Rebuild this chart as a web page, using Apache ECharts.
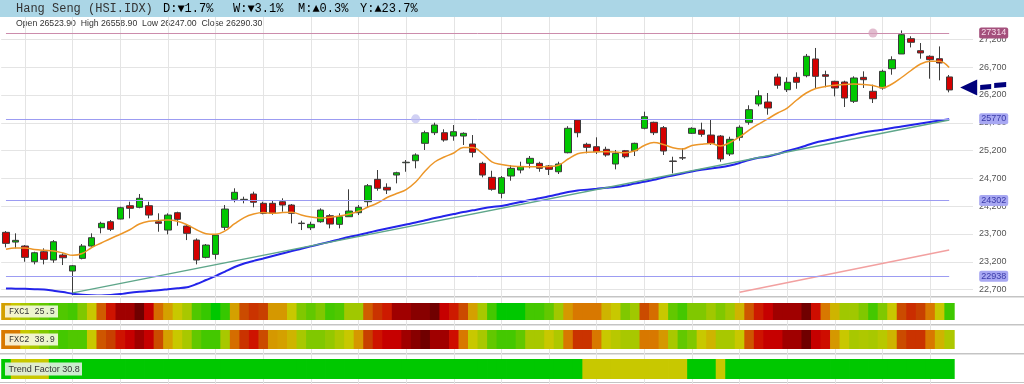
<!DOCTYPE html>
<html>
<head>
<meta charset="utf-8">
<script src="https://cdn.jsdelivr.net/npm/echarts@6/dist/echarts.min.js"></script>
<style>
html, body { margin: 0; padding: 0; background: #fff; }
#chart { width: 1024px; height: 384px; }
</style>
</head>
<body>
<div id="chart"></div>
<script>
// daily candles, oldest first
var opens = [23729,23554,23483,23200,23380,23231,23321,23033,23261,23483,
  23812,23920,23968,24208,24179,24208,23920,23770,24082,23842,
  23590,23279,23333,23819,24323,24315,24418,24251,24251,24280,
  24220,23895,23812,23920,24028,23873,24010,24082,24280,24682,
  24539,24760,24981,25017,25330,25521,25521,25461,25461,25318,
  24970,24718,24431,24742,24850,24970,24970,24922,24819,25161,
  25750,25312,25269,25222,24958,25197,25197,25600,25708,25611,
  25012,25071,25510,25570,25479,25461,25138,25438,25708,26037,
  26073,26523,26294,26517,26546,26847,26564,26445,26433,26086,
  26517,26266,26325,26672,26937,27212,26996,26895,26852,26523.9];
var closes = [23531,23585,23279,23362,23243,23560,23272,23128,23483,23632,
  23891,23783,24172,24161,24341,24040,23891,24040,23963,23711,
  23231,23500,23680,24148,24449,24323,24270,24071,24071,24220,
  24071,23887,23873,24130,23878,24010,24112,24179,24567,24521,
  24490,24801,24990,25120,25521,25659,25390,25539,25510,25168,
  24760,24503,24711,24880,24909,25060,24880,24862,24958,25600,
  25521,25258,25179,25120,25150,25089,25330,25809,25521,25192,
  25005,25066,25600,25492,25330,25048,25402,25618,25935,26186,
  25965,26374,26428,26428,26895,26535,26535,26325,26145,26505,
  26474,26132,26625,26834,27284,27147,26955,26834,26775,26290.3];
var lows = [23459,23441,23200,23153,23153,23182,23141,22600,23243,23470,
  23711,23752,23963,23981,24161,23981,23740,23693,23848,23590,
  23153,23261,23243,23770,24269,24251,24179,24053,24046,24100,
  23891,23770,23770,23902,23801,23801,24010,24040,24179,24478,
  24418,24610,24819,24880,25210,25479,25359,25377,25300,25078,
  24718,24478,24341,24657,24790,24880,24819,24760,24778,25150,
  25438,25150,25138,25089,24862,25060,25102,25582,25479,25120,
  24790,25030,25497,25449,25300,24999,25102,25377,25665,25996,
  25845,26312,26253,26312,26517,26325,26338,26175,25983,26055,
  26325,26055,26294,26564,26937,27055,26852,26492,26463,26247];
var highs = [23752,23711,23500,23380,23441,23590,23351,23141,23519,23711,
  23920,23950,24190,24280,24418,24280,24071,24071,24100,23860,
  23620,23519,23693,24220,24521,24370,24460,24280,24292,24341,
  24238,23938,23920,24161,24058,24071,24503,24220,24598,24850,
  24610,24819,25030,25150,25557,25701,25582,25659,25528,25479,
  24999,24837,24742,24940,24999,25102,24999,24940,24999,25638,
  25762,25341,25438,25269,25210,25210,25341,25899,25719,25641,
  25089,25240,25618,25701,25767,25479,25449,25654,26014,26283,
  26235,26582,26517,26607,26937,27045,26636,26456,26456,26535,
  26625,26384,26654,26895,27360,27255,27134,26913,27073,26558.9];

// moving averages
var maShort = [23425,23447,23447,23421,23405,23393,23357,23315,23348,23456,
  23537,23619,23695,23776,23878,23927,23940,23950,23929,23866,
  23776,23704,23693,23756,23884,23995,24058,24085,24071,24087,
  24091,24040,24004,23985,24001,24022,24058,24107,24184,24256,
  24355,24427,24499,24634,24832,24994,25084,25156,25255,25255,
  25147,24997,24949,24922,24913,24909,24909,24913,24936,25048,
  25143,25170,25177,25179,25174,25159,25197,25291,25345,25309,
  25251,25228,25292,25314,25327,25282,25345,25444,25569,25677,
  25776,25875,25965,26109,26235,26316,26352,26375,26386,26397,
  26390,26370,26329,26397,26514,26640,26757,26805,26807,26694];
var maLong = [22720,22716,22713,22707,22702,22678,22655,22623,22605,22596,
  22592,22601,22619,22642,22659,22673,22687,22705,22723,22740,
  22799,22871,22943,23024,23105,23168,23216,23258,23303,23348,
  23393,23434,23477,23519,23560,23603,23644,23680,23722,23761,
  23797,23833,23869,23905,23945,23986,24022,24058,24094,24125,
  24157,24184,24202,24238,24274,24310,24341,24377,24413,24454,
  24483,24497,24512,24530,24544,24571,24607,24638,24675,24715,
  24751,24787,24823,24853,24877,24898,24931,24976,25030,25069,
  25093,25138,25192,25237,25291,25345,25381,25416,25452,25488,
  25524,25551,25573,25605,25632,25659,25686,25713,25739,25762];

// trend lines: [candle index, price]
var trendUp = [[7, 22640], [99, 25750]];
var trendLow = [[77, 22650], [99, 23411]];

// horizontal levels and where they were marked
var levels = [27314, 25770, 24302, 22938];
var levelMarks = [[91, 27314], [43, 25770]];

var tickValues = [22700, 23200, 23700, 24200, 24700, 25200, 25700, 26200, 26700, 27200];

// indicator strips
var fxc1 = [50,44,38,32,29,26,27.2,26,32,44,
  59,66.2,74,74,80,69.2,57.2,50,44,38,
  27.2,24.8,20,24.8,50,60.8,63.2,62,51.2,51.2,
  44,32,29,32,26,27.2,36.8,36.8,59,63.2,
  65.6,74,74,77,77,80,69.2,65.6,60.8,50,
  38,26,20,20,20,26,26,29,36.8,51.2,
  56,56,56,47,44,32,36.8,60.8,57.2,44,
  29,26,32,32,36.8,32,36.8,47,59.6,65.6,
  69.2,74,74,74,80,66.8,56,47,36.8,36.8,
  32,26,32,44,60.8,63.8,62,56,44,25.5];
var fxc2 = [56,56,44,38,32,29,26,27.2,27.2,44,
  59.6,62,66.2,69.2,74,69.2,60.8,50,44,38,
  29,26,26,38,57.2,63.2,66.2,60.8,51.2,50,
  47,38,32,32,35,39.2,44,51.2,62,66.2,
  69.2,69.2,74,77,80,74,74,66.8,56,44,
  38,29,26,26,29,38,38,44,39.2,56,
  63.2,63.2,56,44,41,38,38,56,56,51.2,
  38,29,32,44,47,38,38,44,59.6,66.2,
  69.2,69.2,74,74,80,69.2,66.8,51.2,44,38,
  39.2,38,41,47,60.8,63.2,63.2,56,47,38.9];
// 1 = trending (green), 0 = neutral (yellow)
var trendFactor = [1,0,0,0,0,1,1,1,1,1,
  1,1,1,1,1,1,1,1,1,1,
  1,1,1,1,1,1,1,1,1,1,
  1,1,1,1,1,1,1,1,1,1,
  1,1,1,1,1,1,1,1,1,1,
  1,1,1,1,1,1,1,1,1,1,
  1,0,0,0,0,0,0,0,0,0,
  0,0,1,1,1,0,1,1,1,1,
  1,1,1,1,1,1,1,1,1,1,
  1,1,1,1,1,1,1,1,1,1];

var fxcColors = ['#00c800','#44c800','#80c800','#a8c800','#c8c800','#d4a000',
  '#d87800','#c84000','#d00000','#a00000','#700000'];

var days = [];
for (var i = 0; i < opens.length; i++) { days.push('d' + (i + 1)); }

var candles = opens.map(function (o, i) { return [o, closes[i], lows[i], highs[i]]; });
function strip(arr) { return arr.map(function (v, i) { return [i, 0, v]; }); }

// one cell per candle, slightly widened so neighbours don't leave seams
function renderCell(params, api) {
  var c = api.coord([api.value(0), 0]);
  var w = api.size([1, 0])[0];
  var cs = params.coordSys;
  return {
    type: 'rect',
    shape: { x: c[0] - w / 2, y: cs.y, width: w + 0.8, height: cs.height },
    style: { fill: api.visual('color') }
  };
}

var levelLines = levels.map(function (v, k) {
  var top = k === 0;
  return [{
    coord: [0, v],
    lineStyle: { color: top ? '#cc8cac' : '#9c9cf2', width: 1, type: 'solid' },
    label: {
      show: true, position: 'end', distance: 30, formatter: String(v),
      fontSize: 9, fontFamily: 'Liberation Sans', lineHeight: 10,
      color: top ? '#f6dcea' : '#3a3aa8',
      backgroundColor: top ? '#a4507c' : '#a8a8f2',
      padding: [1, 2, 0, 2], borderRadius: 2
    }
  }, { coord: [99, v] }];
});

var chart = echarts.init(document.getElementById('chart'));

var option = {
  animation: false,
  backgroundColor: '#fff',
  grid: [
    { left: 6, top: 17, width: 943.2, height: 367 },
    { left: 1.2, top: 17, width: 971.8, height: 277 },
    { left: 1.2, top: 303, width: 952.7, height: 17 },
    { left: 1.2, top: 330, width: 952.7, height: 19 },
    { left: 1.2, top: 359, width: 952.7, height: 20 }
  ],
  xAxis: [
    { gridIndex: 0, type: 'category', data: days, boundaryGap: false,
      axisLine: { show: false }, axisTick: { show: false }, axisLabel: { show: false },
      splitLine: { show: true, interval: function (idx) { return idx % 5 === 2; },
        lineStyle: { color: '#e4e4e4', width: 1 } } },
    { gridIndex: 1, type: 'category', data: days.concat([' ', '  ']), show: false },
    { gridIndex: 2, type: 'category', data: days, show: false },
    { gridIndex: 3, type: 'category', data: days, show: false },
    { gridIndex: 4, type: 'category', data: days, show: false }
  ],
  yAxis: [
    { gridIndex: 0, type: 'value', min: 0, max: 1, show: false },
    { gridIndex: 1, type: 'value', position: 'right', min: 22620, max: 27602,
      axisLine: { show: false },
      axisTick: { show: false, customValues: tickValues },
      axisLabel: { customValues: tickValues, margin: 6, fontSize: 9,
        fontFamily: 'Liberation Sans', color: '#555' },
      splitLine: { show: true, lineStyle: { color: '#e4e4e4' } } },
    { gridIndex: 2, type: 'category', data: ['r'], show: false },
    { gridIndex: 3, type: 'category', data: ['r'], show: false },
    { gridIndex: 4, type: 'category', data: ['r'], show: false }
  ],
  visualMap: [
    { type: 'continuous', show: false, seriesIndex: [5, 6], dimension: 2, min: 20, max: 80,
      inRange: { color: fxcColors } },
    { type: 'piecewise', show: false, seriesIndex: 7, dimension: 2,
      pieces: [{ value: 1, color: '#00c800' }, { value: 0, color: '#c8c800' }] }
  ],
  series: [
    {
      type: 'candlestick', xAxisIndex: 1, yAxisIndex: 1, data: candles,
      barWidth: '72%',
      itemStyle: { color: '#00c800', color0: '#d40000',
        borderColor: '#3c3c3c', borderColor0: '#3c3c3c', borderWidth: 1 },
      markLine: { silent: true, symbol: ['none', 'none'], animation: false, data: levelLines },
      markPoint: {
        silent: true, label: { show: false },
        data: [
          { coord: levelMarks[0], symbol: 'circle', symbolSize: 9,
            itemStyle: { color: 'rgba(214,160,186,0.7)' } },
          { coord: levelMarks[1], symbol: 'circle', symbolSize: 9,
            itemStyle: { color: 'rgba(190,190,240,0.7)' } },
          { coord: [99, closes[99]],
            symbol: 'path://M0,8 L17,0 L17,16 Z M20,5.5 L31,4.5 L31,9.5 L20,10.5 Z M34,3.5 L46,2.5 L46,7.5 L34,8.5 Z',
            symbolSize: [46, 16], symbolOffset: [34, -2.5],
            itemStyle: { color: '#00007c' } }
        ]
      }
    },
    { type: 'line', xAxisIndex: 1, yAxisIndex: 1, data: maShort, symbol: 'none',
      smooth: 0.4, lineStyle: { color: '#ec9628', width: 1.5 } },
    { type: 'line', xAxisIndex: 1, yAxisIndex: 1, data: maLong, symbol: 'none',
      smooth: 0.3, lineStyle: { color: '#2424ea', width: 2 } },
    { type: 'line', xAxisIndex: 1, yAxisIndex: 1, data: trendUp, symbol: 'none',
      lineStyle: { color: '#5ea68a', width: 1.5 } },
    { type: 'line', xAxisIndex: 1, yAxisIndex: 1, data: trendLow, symbol: 'none',
      lineStyle: { color: '#f2a0a0', width: 1.5 } },
    { type: 'custom', xAxisIndex: 2, yAxisIndex: 2, data: strip(fxc1), renderItem: renderCell },
    { type: 'custom', xAxisIndex: 3, yAxisIndex: 3, data: strip(fxc2), renderItem: renderCell },
    { type: 'custom', xAxisIndex: 4, yAxisIndex: 4, data: strip(trendFactor), renderItem: renderCell }
  ],
  graphic: [
    { type: 'rect', silent: true, z: -10, shape: { x: 0, y: 0, width: 1024, height: 17 },
      style: { fill: '#abd6e6' } },
    { type: 'text', x: 16, y: 9, silent: true, style: {
      text: 'Hang Seng (HSI.IDX)', font: '12px "Liberation Mono"', fill: '#333',
      verticalAlign: 'middle' } },
    { type: 'text', x: 163, y: 9, silent: true, style: {
      text: '{n|D:}{dn|▼1.7%}', verticalAlign: 'middle',
      rich: { n: { fontFamily: 'Liberation Mono', fontSize: 12, color: '#333' },
              dn: { fontFamily: 'Liberation Mono', fontSize: 12, color: '#c0181e' } } } },
    { type: 'text', x: 233, y: 9, silent: true, style: {
      text: '{n|W:}{dn|▼3.1%}', verticalAlign: 'middle',
      rich: { n: { fontFamily: 'Liberation Mono', fontSize: 12, color: '#333' },
              dn: { fontFamily: 'Liberation Mono', fontSize: 12, color: '#c0181e' } } } },
    { type: 'text', x: 298, y: 9, silent: true, style: {
      text: '{n|M:}{up|▲0.3%}', verticalAlign: 'middle',
      rich: { n: { fontFamily: 'Liberation Mono', fontSize: 12, color: '#333' },
              up: { fontFamily: 'Liberation Mono', fontSize: 12, color: '#229a2a' } } } },
    { type: 'text', x: 360, y: 9, silent: true, style: {
      text: '{n|Y:}{up|▲23.7%}', verticalAlign: 'middle',
      rich: { n: { fontFamily: 'Liberation Mono', fontSize: 12, color: '#333' },
              up: { fontFamily: 'Liberation Mono', fontSize: 12, color: '#229a2a' } } } },
    { type: 'text', x: 16, y: 24, silent: true, style: {
      text: 'Open 26523.90  High 26558.90  Low 26247.00  Close 26290.30',
      font: '8.7px "Liberation Sans"', fill: '#333', verticalAlign: 'middle' } },
    // panel separators
    { type: 'line', silent: true, shape: { x1: 0, y1: 296.5, x2: 1024, y2: 296.5 }, style: { stroke: '#c4c4c4', lineWidth: 1 } },
    { type: 'line', silent: true, shape: { x1: 0, y1: 297.5, x2: 1024, y2: 297.5 }, style: { stroke: '#e2e2e2', lineWidth: 1 } },
    { type: 'line', silent: true, shape: { x1: 0, y1: 324.5, x2: 1024, y2: 324.5 }, style: { stroke: '#c4c4c4', lineWidth: 1 } },
    { type: 'line', silent: true, shape: { x1: 0, y1: 325.5, x2: 1024, y2: 325.5 }, style: { stroke: '#e2e2e2', lineWidth: 1 } },
    { type: 'line', silent: true, shape: { x1: 0, y1: 353.5, x2: 1024, y2: 353.5 }, style: { stroke: '#c4c4c4', lineWidth: 1 } },
    { type: 'line', silent: true, shape: { x1: 0, y1: 354.5, x2: 1024, y2: 354.5 }, style: { stroke: '#e2e2e2', lineWidth: 1 } },
    { type: 'line', silent: true, shape: { x1: 0, y1: 382.5, x2: 1024, y2: 382.5 }, style: { stroke: '#c4c4c4', lineWidth: 1 } },
    // strip captions
    { type: 'rect', silent: true, z: 100, shape: { x: 5, y: 305.5, width: 53, height: 12 },
      style: { fill: 'rgba(250,250,232,0.88)' } },
    { type: 'text', silent: true, z: 101, x: 9, y: 311.8, style: { text: 'FXC1 25.5',
      font: '8.5px "Liberation Mono"', fill: '#333', verticalAlign: 'middle' } },
    { type: 'rect', silent: true, z: 100, shape: { x: 5, y: 333.5, width: 53, height: 12 },
      style: { fill: 'rgba(250,250,232,0.88)' } },
    { type: 'text', silent: true, z: 101, x: 9, y: 339.8, style: { text: 'FXC2 38.9',
      font: '8.5px "Liberation Mono"', fill: '#333', verticalAlign: 'middle' } },
    { type: 'rect', silent: true, z: 100, shape: { x: 5, y: 362.5, width: 77, height: 13 },
      style: { fill: 'rgba(226,240,228,0.9)' } },
    { type: 'text', silent: true, z: 101, x: 8.5, y: 369.2, style: { text: 'Trend Factor 30.8',
      font: '9px "Liberation Sans"', fill: '#333', verticalAlign: 'middle' } }
  ]
};

chart.setOption(option);
</script>
</body>
</html>
